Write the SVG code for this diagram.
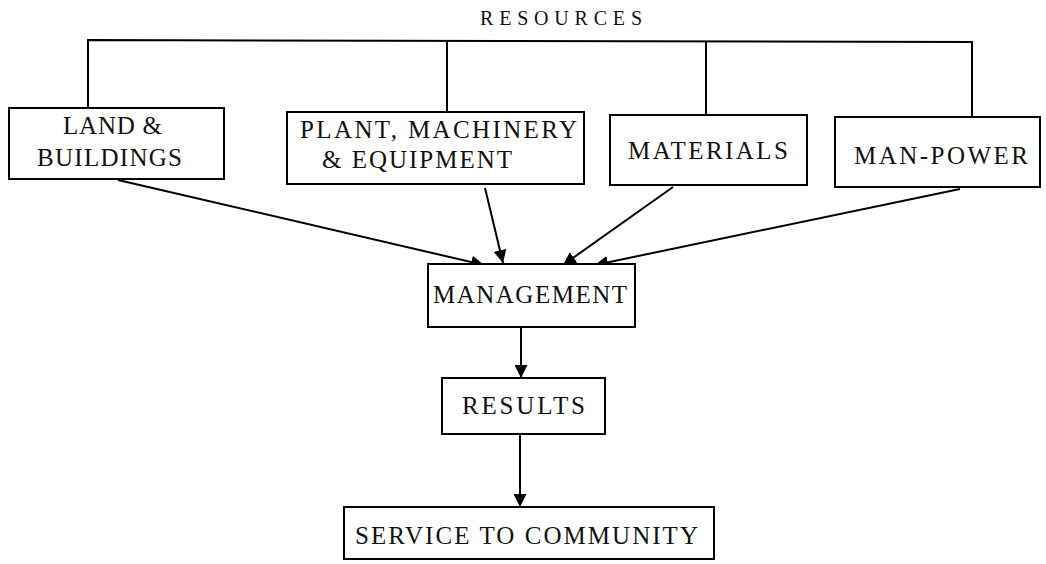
<svg xmlns="http://www.w3.org/2000/svg" width="1046" height="564" viewBox="0 0 1046 564">
<style>
.box{fill:#fff;stroke:#000;stroke-width:2}
.t{font-family:"Liberation Serif","Times New Roman",serif;font-size:25px;fill:#111}
.ln{stroke:#000;stroke-width:2;fill:none}
.ar{stroke:#000;stroke-width:2;fill:none;marker-end:url(#ah)}
</style>
<defs>
<marker id="ah" viewBox="0 0 10 10" refX="10" refY="5" markerWidth="13" markerHeight="13" markerUnits="userSpaceOnUse" orient="auto">
<path d="M0,0 L10,5 L0,10 z" fill="#000"/>
</marker>
</defs>
<text class="t" x="480" y="25" textLength="162" lengthAdjust="spacing" style="font-size:20px">RESOURCES</text>
<g id="connectors">
<polyline class="ln" points="88,108 88,40 972,42 972,117"/>
<line class="ln" x1="447" y1="40" x2="447" y2="112"/>
<line class="ln" x1="706" y1="41" x2="706" y2="115"/>
<line class="ar" x1="118" y1="180" x2="484" y2="265"/>
<line class="ar" x1="485" y1="188" x2="503" y2="263"/>
<line class="ar" x1="673" y1="187" x2="563" y2="265"/>
<line class="ar" x1="960" y1="189" x2="595" y2="265"/>
<line class="ar" x1="521" y1="327" x2="521" y2="378"/>
<line class="ar" x1="520" y1="434" x2="520" y2="507"/>
</g>
<g id="land">
<rect class="box" x="9" y="108" width="215" height="71"/>
<text class="t" x="63" y="134" textLength="99" lengthAdjust="spacing">LAND &amp;</text>
<text class="t" x="37" y="166" textLength="145" lengthAdjust="spacing">BUILDINGS</text>
</g>
<g id="plant">
<rect class="box" x="287" y="112" width="297" height="72"/>
<text class="t" x="300" y="138" textLength="277" lengthAdjust="spacing">PLANT, MACHINERY</text>
<text class="t" x="322" y="168" textLength="190" lengthAdjust="spacing">&amp; EQUIPMENT</text>
</g>
<g id="materials">
<rect class="box" x="610" y="115" width="197" height="70"/>
<text class="t" x="628" y="159" textLength="160" lengthAdjust="spacing">MATERIALS</text>
</g>
<g id="manpower">
<rect class="box" x="835" y="117" width="205" height="70"/>
<text class="t" x="854" y="164" textLength="174" lengthAdjust="spacing">MAN-POWER</text>
</g>
<g id="management">
<rect class="box" x="428" y="264" width="207" height="63"/>
<text class="t" x="433" y="303" textLength="194" lengthAdjust="spacing">MANAGEMENT</text>
</g>
<g id="results">
<rect class="box" x="442" y="378" width="163" height="56"/>
<text class="t" x="462" y="414" textLength="123" lengthAdjust="spacing">RESULTS</text>
</g>
<g id="service">
<rect class="box" x="344" y="507" width="370" height="52"/>
<text class="t" x="355" y="544" textLength="343" lengthAdjust="spacing">SERVICE TO COMMUNITY</text>
</g>
</svg>
